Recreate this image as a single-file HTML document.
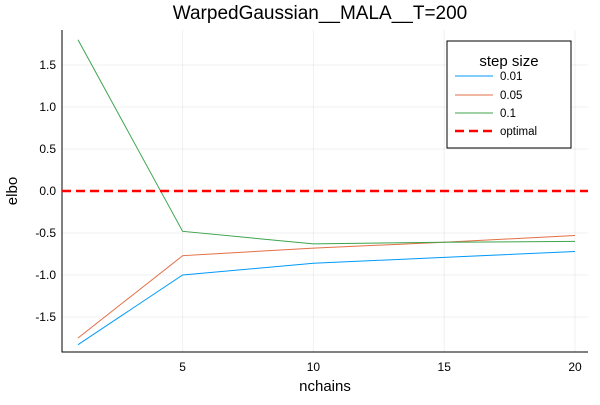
<!DOCTYPE html>
<html><head><meta charset="utf-8"><style>
body{margin:0;background:#fff;font-family:"Liberation Sans",sans-serif}
svg text{font-family:"Liberation Sans",sans-serif}
</style></head><body>
<svg id="chart" width="600" height="400">
<text x="320" y="19" font-size="19" text-anchor="middle">WarpedGaussian__MALA__T=200</text>
<text x="325" y="391" font-size="15" text-anchor="middle">nchains</text>
<text x="17" y="191" font-size="15" text-anchor="middle" transform="rotate(-90 17 191)">elbo</text>
<g id="grid"></g><g id="axes"></g><g id="series"></g>
<g>
<rect x="447" y="41" width="124" height="107" fill="#fff" stroke="#000" stroke-width="1"/>
<text x="509" y="66" font-size="15" text-anchor="middle">step size</text>
<line x1="455" y1="76" x2="493" y2="76" stroke="#009af9"/><text x="500" y="80" font-size="11.5">0.01</text>
<line x1="455" y1="95" x2="493" y2="95" stroke="#e26f46"/><text x="500" y="99" font-size="11.5">0.05</text>
<line x1="455" y1="113" x2="493" y2="113" stroke="#3da44d"/><text x="500" y="117" font-size="11.5">0.1</text>
<line x1="455" y1="131" x2="493" y2="131" stroke="#f00" stroke-width="2.5" stroke-dasharray="9,5"/><text x="500" y="135" font-size="11.5">optimal</text>
</g>
</svg>
<script>
const xs=[1,5,10,15,20];
const s001=[-1.83,-1.0,-0.86,-0.79,-0.72];
const s005=[-1.75,-0.77,-0.68,-0.61,-0.53];
const s01=[1.8,-0.48,-0.63,-0.61,-0.6];
const optimal=0;
const xTicks=[5,10,15,20];
const yTicks=[-1.5,-1.0,-0.5,0.0,0.5,1.0,1.5];
const L=62,R=588,T=30,B=352;
const X=v=>78+(v-1)*(575-78)/19;
const Y=v=>191-v*84;
const ns="http://www.w3.org/2000/svg";
function mk(tag,attrs,parent){const e=document.createElementNS(ns,tag);for(const k in attrs)e.setAttribute(k,attrs[k]);document.getElementById(parent).appendChild(e);return e;}
xTicks.forEach(t=>{
 const g=mk('line',{x1:X(t),x2:X(t),y1:T,y2:B,stroke:'#000','stroke-opacity':0.06},'grid');
 
 
 const tx=mk('text',{x:X(t),y:B+19,'font-size':12,'text-anchor':'middle'},'axes');tx.textContent=t;
 
 
});
yTicks.forEach(t=>{
 const g=mk('line',{x1:L,x2:R,y1:Y(t),y2:Y(t),stroke:'#000','stroke-opacity':0.06},'grid');
 
 
 const tx=mk('text',{x:L-6,y:Y(t)+4,'font-size':12,'text-anchor':'end'},'axes');tx.textContent=t.toFixed(1);
 
 
});
const ax=mk('path',{d:`M${L},${T}V${B}H${R}`,fill:'none',stroke:'#000'},'axes');


function line(vals,color,name){
 const p=mk('polyline',{points:vals.map((v,i)=>X(xs[i])+','+Y(v)).join(' '),fill:'none',stroke:color,'stroke-width':1},'series');
 
 
}
line(s001,'#009af9','series-0.01');
line(s005,'#e26f46','series-0.05');
line(s01,'#3da44d','series-0.1');
const o=mk('line',{x1:L,x2:R,y1:Y(optimal),y2:Y(optimal),stroke:'#f00','stroke-width':2.5,'stroke-dasharray':'9,5'},'series');


</script>
</body></html>
